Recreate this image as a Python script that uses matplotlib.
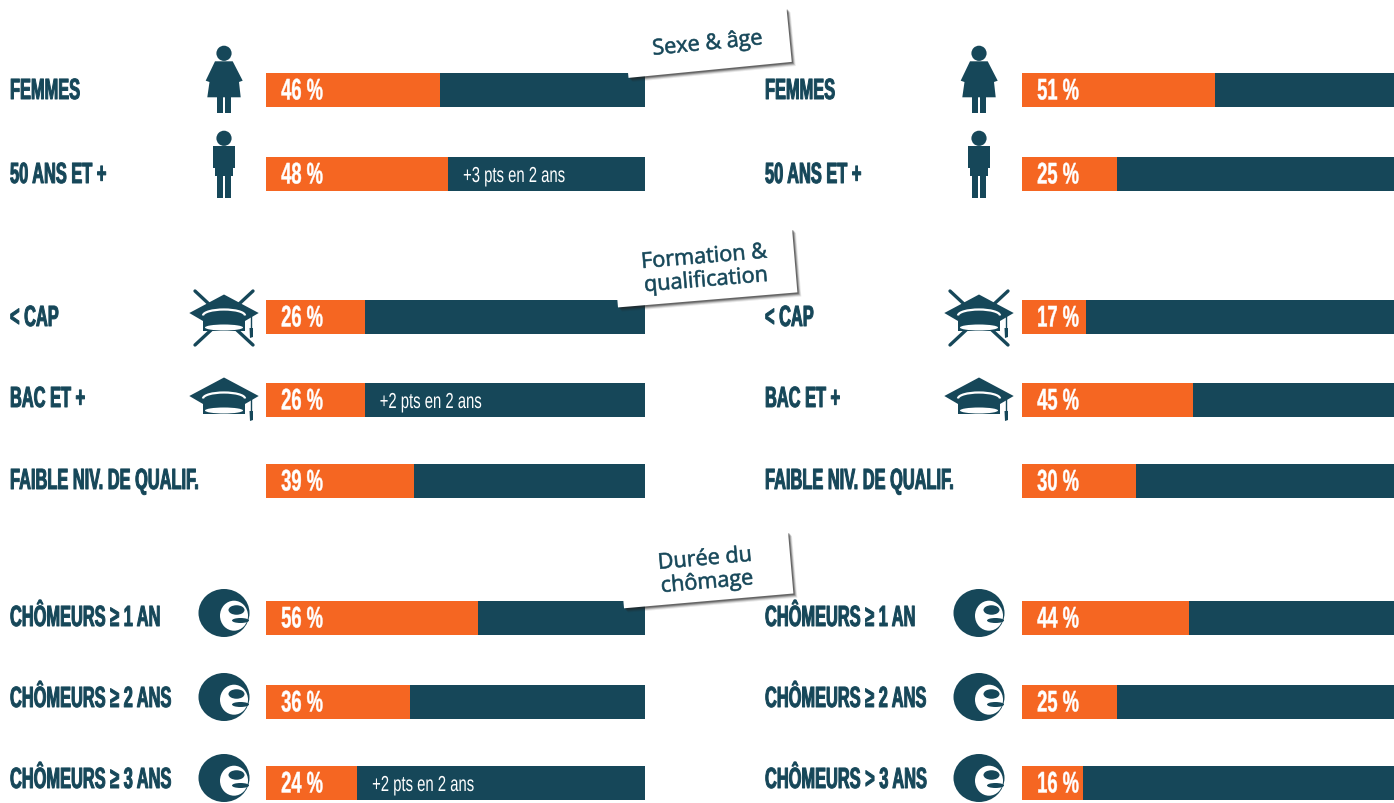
import numpy as np
import matplotlib
matplotlib.use('Agg')
import matplotlib.pyplot as plt
from matplotlib.patches import Circle, Ellipse, Polygon, Rectangle, Arc
from matplotlib.patheffects import AbstractPathEffect
from matplotlib.transforms import Affine2D

# chart values
labels_left = ['FEMMES', '50 ANS ET +', '< CAP', 'BAC ET +', 'FAIBLE NIV. DE QUALIF.',
               'CHÔMEURS ≥ 1 AN', 'CHÔMEURS ≥ 2 ANS', 'CHÔMEURS ≥ 3 ANS']
labels_right = ['FEMMES', '50 ANS ET +', '< CAP', 'BAC ET +', 'FAIBLE NIV. DE QUALIF.',
                'CHÔMEURS ≥ 1 AN', 'CHÔMEURS ≥ 2 ANS', 'CHÔMEURS > 3 ANS']
values_left = [46, 48, 26, 26, 39, 56, 36, 24]
values_right = [51, 25, 17, 45, 30, 44, 25, 16]
# the printed 36 % is drawn wider in the original
drawn_left = [46, 48, 26, 26, 39, 56, 38, 24]
drawn_right = [51, 25, 17, 45, 30, 44, 25, 16]
notes_left = ['', '+3 pts en 2 ans', '', '+2 pts en 2 ans', '', '', '', '+2 pts en 2 ans']
icons = ['woman', 'man', 'nocap', 'cap', '', 'e', 'e', 'e']
tags = ['Sexe & âge', 'Formation &\nqualification', 'Durée du\nchômage']

# layout, in pixels of the picture
W, H = 1394, 804
row_y = [90, 174, 317, 400, 481, 618, 702, 783]
label_y = [90, 174, 317, 398, 480, 617, 698, 779]
tag_box = [(707.5, 44, 164, 54, 5.6), (705, 269, 180, 64, 4.8), (706, 571, 170, 62, 5.0)]
dark = '#164759'
orange = '#f56622'


class Tall(AbstractPathEffect):
    # stretches the glyphs up from the baseline, the fonts here have no condensed cut
    def __init__(self, sy=1.0, lw=0.0):
        super().__init__()
        self.sy = sy
        self.lw = lw

    def draw_path(self, renderer, gc, tpath, affine, rgbFace=None):
        m = affine.get_matrix().copy()
        m[1, 1] *= self.sy
        gc0 = renderer.new_gc()
        gc0.copy_properties(gc)
        gc0.set_linewidth(self.lw)
        gc0.set_foreground(rgbFace)
        renderer.draw_path(gc0, tpath, Affine2D(m), rgbFace)
        gc0.restore()


fig = plt.figure(figsize=(W / 100, H / 100), dpi=100)


def bar_axes(x0):
    ax = fig.add_axes([x0 / W, 0, 379 / W, 1], zorder=1)
    ax.set_xlim(0, 100)
    ax.set_ylim(H, 0)
    ax.axis('off')
    return ax


ax_l = bar_axes(266)
ax_r = bar_axes(1022)
ov = fig.add_axes([0, 0, 1, 1], zorder=2)
ov.set_xlim(0, W)
ov.set_ylim(H, 0)
ov.axis('off')


def draw_bars(ax, values, drawn, notes):
    for y, v, d, note in zip(row_y, values, drawn, notes):
        ax.barh(y + 0.5, 100, height=34, color=dark, lw=0)
        ax.barh(y + 0.5, d, height=34, color=orange, lw=0)
        ax.text(4, y + 10.5, '%d %%' % v, color='white', fontsize=13.2, fontweight='bold',
                family='Liberation Sans', path_effects=[Tall(1.63, 0.3)])
        if note:
            ax.text(d + 4, y + 9, note, color='white', fontsize=10.7, family='Liberation Sans',
                    path_effects=[Tall(1.46, 0.0)])


def woman(dx, y):
    ov.add_patch(Circle((dx + 224, y - 35.7), 7.6, color=dark, lw=0))
    body = [(215, -27.7), (232.7, -27.7), (242.7, -8.3), (239, -7), (240.7, 8.3),
            (207.3, 8.3), (209.5, -7), (205.7, -8.3)]
    ov.add_patch(Polygon([(dx + a, y + b) for a, b in body], color=dark, lw=0))
    ov.add_patch(Rectangle((dx + 217, y + 8), 5.5, 16, color=dark, lw=0))
    ov.add_patch(Rectangle((dx + 225, y + 8), 6, 16, color=dark, lw=0))


def man(dx, y):
    ov.add_patch(Circle((dx + 224, y - 34.7), 7.6, color=dark, lw=0))
    ov.add_patch(Rectangle((dx + 213, y - 27), 22, 22, color=dark, lw=0))
    ov.add_patch(Rectangle((dx + 215, y - 5), 18, 8, color=dark, lw=0))
    ov.add_patch(Rectangle((dx + 217, y + 3), 5.5, 22, color=dark, lw=0))
    ov.add_patch(Rectangle((dx + 225, y + 3), 6, 22, color=dark, lw=0))


def cap(dx, y):
    cx = dx + 224
    # band, board, white fold and rim
    band = [(-21, 0), (21, 0), (21, 17), (-21, 17)]
    ov.add_patch(Polygon([(cx + a, y + b) for a, b in band], color=dark, lw=0, zorder=3))
    board = [(0, -19.5), (34.7, -1), (21, 7), (-21, 7), (-34.7, -1)]
    ov.add_patch(Polygon([(cx + a, y + b) for a, b in board], color=dark, lw=0, zorder=3))
    ov.add_patch(Arc((cx, y + 1.5), 42, 12, theta1=180, theta2=360, color='white', lw=1.6, zorder=4))
    ov.add_patch(Ellipse((cx, y + 13.5), 38, 6, color='white', lw=0, zorder=4))
    ov.plot([cx + 27, cx + 27], [y + 1, y + 14], color=dark, lw=1, zorder=3)
    ov.add_patch(Polygon([(cx + 25.5, y + 14), (cx + 29, y + 14), (cx + 29, y + 23), (cx + 26, y + 24)],
                         color=dark, lw=0, zorder=3))


def nocap(dx, y):
    cap(dx, y)
    ov.plot([dx + 195, dx + 253], [y - 23, y + 31], color=dark, lw=2.4, zorder=2.5, solid_capstyle='round')
    ov.plot([dx + 253, dx + 195], [y - 23, y + 31], color=dark, lw=2.4, zorder=2.5, solid_capstyle='round')


def e_logo(dx, y):
    ov.add_patch(Ellipse((dx + 224, y), 51, 48, color=dark, lw=0))
    # white e: a disc with two dark counters cut out of it
    ov.add_patch(Ellipse((dx + 234, y + 2.7), 28, 30, color='white', lw=0))
    ov.add_patch(Ellipse((dx + 236.5, y - 3), 16, 9.5, color=dark, lw=0))
    ov.add_patch(Ellipse((dx + 240.5, y + 7.5), 17, 5, color=dark, lw=0))


def draw_column(dx, labels):
    for lab, ly, ic, by in zip(labels, label_y, icons, row_y):
        ov.text(dx + 10, ly + 10, lab, color=dark, fontsize=11.8, fontweight='bold',
                family='Liberation Sans', path_effects=[Tall(1.78, 0.7)])
        if ic == 'woman':
            woman(dx, by)
        elif ic == 'man':
            man(dx, by)
        elif ic == 'cap':
            cap(dx, by - 2)
        elif ic == 'nocap':
            nocap(dx, by - 2)
        elif ic == 'e':
            e_logo(dx, by - 4)


def draw_tag(box, text):
    cx, cy, w, h, ang = box
    rot = Affine2D().rotate_deg_around(cx, cy, -ang)
    # soft shadow built from a few offset layers
    for off, a in [(4.5, 0.10), (3.5, 0.18), (2.5, 0.30), (1.5, 0.40)]:
        ov.add_patch(Rectangle((cx - w / 2 + off * 0.8, cy - h / 2 + off), w, h, color='#222222', alpha=a,
                               lw=0, zorder=5, transform=rot + ov.transData))
    ov.add_patch(Rectangle((cx - w / 2, cy - h / 2), w, h, color='white', lw=0, zorder=6,
                           transform=rot + ov.transData))
    ov.text(cx, cy + 1, text, color=dark, fontsize=15.6, family='Open Sans',
            ha='center', va='center', rotation=ang, rotation_mode='anchor',
            linespacing=1.15, zorder=7, multialignment='center',
            path_effects=[Tall(1.0, 0.45)])


draw_bars(ax_l, values_left, drawn_left, notes_left)
draw_bars(ax_r, values_right, drawn_right, [''] * 8)
draw_column(0, labels_left)
draw_column(755, labels_right)
for b, t in zip(tag_box, tags):
    draw_tag(b, t)

fig.savefig('out.png', dpi=100)
